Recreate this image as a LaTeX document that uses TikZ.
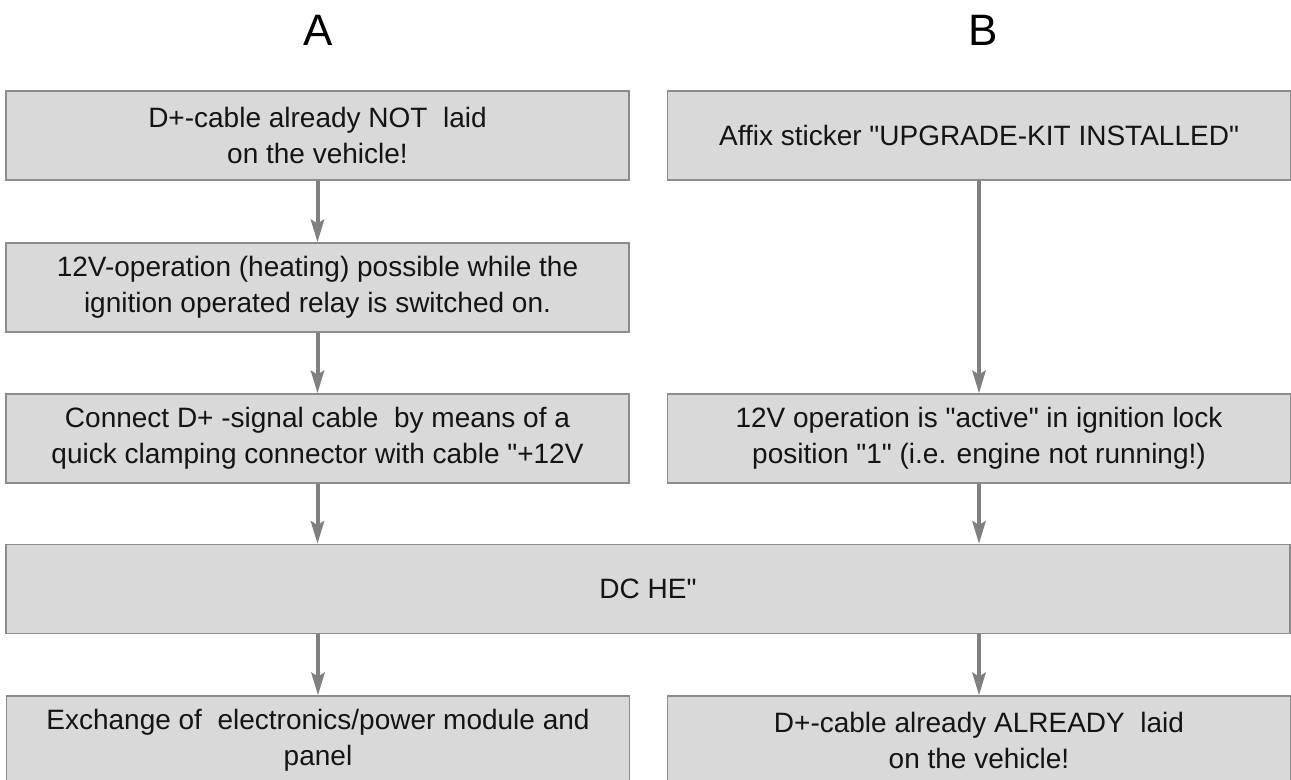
\documentclass[tikz,border=0pt]{standalone}
\usepackage{fontspec}
\setmainfont{Liberation Sans}[Ligatures=TeXOff]
\usetikzlibrary{arrows.meta}
\definecolor{boxfill}{HTML}{D9D9D9}
\definecolor{boxline}{HTML}{8C8C8C}
\definecolor{flowgray}{HTML}{808080}
\definecolor{textdark}{HTML}{141414}

\begin{document}
\begin{tikzpicture}[x=0.75pt, y=-0.75pt,
    infobox/.style={draw=boxline, fill=boxfill, line width=1.1pt, inner sep=0pt,
                    minimum height=66.75pt, align=center, text=textdark,
                    font=\fontsize{21}{27}\selectfont},
    colbox/.style={infobox, minimum width=467.25pt},
    flow/.style={draw=flowgray, line width=3pt,
                 -{Stealth[length=17pt, width=10pt, inset=3pt]}},
    colhead/.style={font=\fontsize{33}{36}\selectfont, text=black}]
    % Fix the page size to the reference proportions
    \useasboundingbox (0,0) rectangle (1291,780);
    \clip (0,0) rectangle (1291,780);

    % Column headings
    \node[colhead] (headA) at (318,30) {A};
    \node[colhead] (headB) at (983,30) {B};

    % Left column
    \node[colbox] (A1) at (317.5,135.5) {D+-cable already NOT~ laid\\on the vehicle!};
    \node[colbox] (A2) at (317.5,287.5) {12V-operation (heating) possible while the\\ignition operated relay is switched on.};
    \node[colbox] (A3) at (317.5,438.5) {Connect D+ -signal cable~ by means of a\\quick clamping connector with cable "+12V};

    % Right column
    \node[colbox] (B1) at (979,135.5) {Affix sticker "UPGRADE-KIT INSTALLED"};
    \node[colbox] (B2) at (979,438.5) {12V operation is "active" in ignition lock\\position "1" (i.e. engine not running!)};

    % Common box across both columns
    \node[infobox, minimum width=963pt] (DC) at (648,589) {DC HE"};

    % Bottom row
    \node[colbox] (A4) at (318,740.5) {Exchange of~ electronics/power module and\\panel};
    \node[colbox] (B3) at (979,740.5) {D+-cable already ALREADY~ laid\\on the vehicle!};

    % Connectors
    \draw[flow] (A1) -- (A2);
    \draw[flow] (A2) -- (A3);
    \draw[flow] (A3) -- (A3 |- DC.north);
    \draw[flow] (B1) -- (B2);
    \draw[flow] (B2) -- (B2 |- DC.north);
    \draw[flow] (DC.south -| A4) -- (A4);
    \draw[flow] (DC.south -| B3) -- (B3);
\end{tikzpicture}
\end{document}
